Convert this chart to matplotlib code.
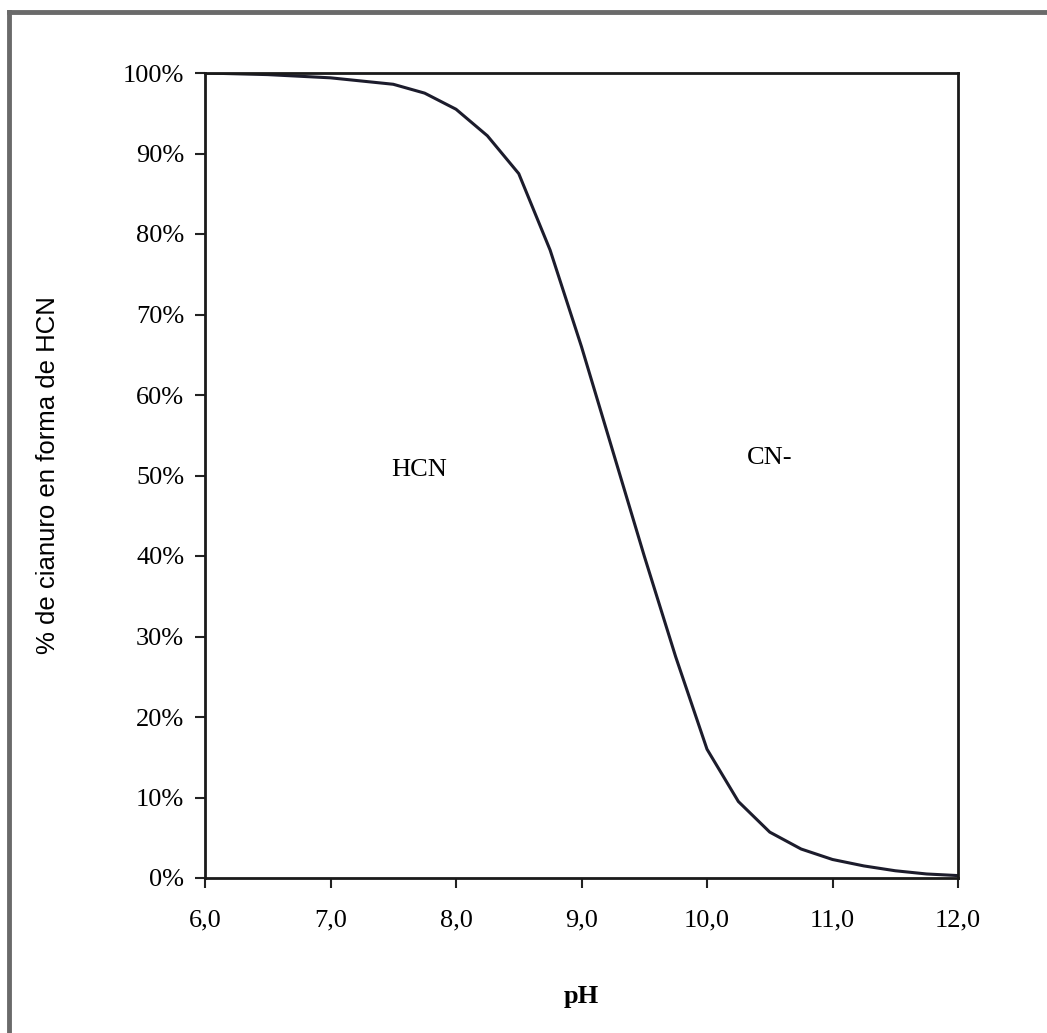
import matplotlib
matplotlib.use('Agg')
import matplotlib.pyplot as plt
from matplotlib.lines import Line2D
from matplotlib.ticker import PercentFormatter

# pH vs fraction of cyanide as HCN
ph = [6.0, 6.5, 7.0, 7.5, 7.75, 8.0, 8.25, 8.5, 8.75, 9.0, 9.25, 9.5, 9.75,
      10.0, 10.25, 10.5, 10.75, 11.0, 11.25, 11.5, 11.75, 12.0]
hcn = [1.000, 0.998, 0.994, 0.986, 0.975, 0.955, 0.922, 0.875, 0.780, 0.660,
       0.530, 0.400, 0.275, 0.160, 0.095, 0.057, 0.036, 0.023, 0.015, 0.009,
       0.005, 0.003]

xticks = [6.0, 7.0, 8.0, 9.0, 10.0, 11.0, 12.0]
xticklabels = ['6,0', '7,0', '8,0', '9,0', '10,0', '11,0', '12,0']
yticks = [0, 0.1, 0.2, 0.3, 0.4, 0.5, 0.6, 0.7, 0.8, 0.9, 1.0]

serif = 'Liberation Serif'
sans = 'Liberation Sans'

fig = plt.figure(figsize=(10.47, 10.33), dpi=100)
ax = fig.add_axes([205/1047, 155/1033, 753/1047, 805/1033])

ax.plot(ph, hcn, color='#1c1c2c', lw=2.2, solid_joinstyle='round')
ax.set_xlim(6, 12)
ax.set_ylim(0, 1)

ax.set_xticks(xticks)
ax.set_xticklabels(xticklabels, fontfamily=serif, fontsize=19)
ax.set_yticks(yticks)
ax.yaxis.set_major_formatter(PercentFormatter(1.0, decimals=0))
for lab in ax.get_yticklabels():
    lab.set_fontfamily(serif)
    lab.set_fontsize(19)
ax.tick_params(axis='both', direction='out', length=7, width=1.5, color='#222222', pad=8)
ax.tick_params(axis='x', pad=16)

for s in ax.spines.values():
    s.set_linewidth(2)
    s.set_color('#1a1a1a')

ax.set_ylabel('% de cianuro en forma de HCN', fontfamily=sans, fontsize=18.5, labelpad=45)
ax.set_xlabel('pH', fontfamily=serif, fontsize=19, fontweight='bold', labelpad=38)

ax.text(7.71, 0.507, 'HCN', fontfamily=serif, fontsize=19, ha='center', va='center')
ax.text(10.5, 0.522, 'CN-', fontfamily=serif, fontsize=19, ha='center', va='center')

# gray frame on top and left edge
fig.add_artist(Line2D([9/1047, 1], [1 - 12/1033, 1 - 12/1033], color='#6a6a6a', lw=3.5))
fig.add_artist(Line2D([9/1047, 9/1047], [0, 1 - 12/1033], color='#6a6a6a', lw=3.5))

plt.savefig('out.png', dpi=100)
